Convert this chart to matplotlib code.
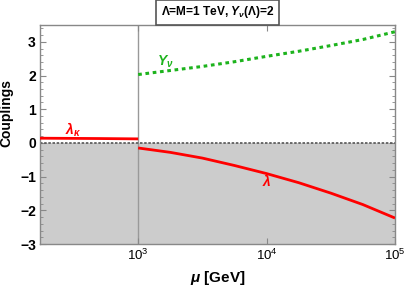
import numpy as np
import matplotlib
matplotlib.use("Agg")
import matplotlib.pyplot as plt
from matplotlib.ticker import LogLocator, FixedLocator, NullFormatter

plt.rcParams['font.family'] = ['Liberation Sans', 'DejaVu Sans']
plt.rcParams['mathtext.fontset'] = 'custom'
plt.rcParams['mathtext.rm'] = 'Liberation Sans:bold'
plt.rcParams['mathtext.it'] = 'Liberation Sans:bold:italic'
plt.rcParams['mathtext.bf'] = 'Liberation Sans:bold'

# data
mu_low = [172, 300, 500, 1000]
lam_kappa = [0.14, 0.135, 0.13, 0.12]
mu_high = [1e3, 10**3.25, 10**3.5, 10**3.75, 1e4, 10**4.25, 10**4.5, 10**4.75, 1e5]
Y_nu = [2.03, 2.15, 2.27, 2.41, 2.57, 2.72, 2.89, 3.07, 3.30]
lam = [-0.15, -0.28, -0.45, -0.67, -0.91, -1.18, -1.49, -1.83, -2.23]
xticks = [1e3, 1e4, 1e5]
xticklabels = [r'$\mathregular{10^3}$', r'$\mathregular{10^4}$', r'$\mathregular{10^5}$']
yticks = [-3, -2, -1, 0, 1, 2, 3]
yticklabels = ['\u22123', '\u22122', '\u22121', '0', '1', '2', '3']

fig = plt.figure(figsize=(4.07, 2.88), dpi=100)
ax = fig.add_axes([40/407, 1-244/288, 355/407, 219/288])
xmin, xmax = 172, 1e5
ax.set_xscale('log')
ax.set_xlim(xmin, xmax)
ax.set_ylim(-3, 3.5)

ax.axhspan(-3, 0, color='#cccccc', zorder=0, lw=0)
ax.axvline(1e3, color='#999999', lw=1.0, zorder=1)
ax.axhline(0, color='#555555', lw=1.2, ls=(0, (1.5, 1)), zorder=2)

ax.plot(mu_low, lam_kappa, color='#ff0000', lw=2, zorder=3, solid_capstyle='butt')
ax.plot(mu_high, lam, color='#ff0000', lw=2, zorder=3, solid_capstyle='butt')
ax.plot(mu_high, Y_nu, color='#1db31d', lw=2.2, ls=(0, (1.2, 1.2)), zorder=3)

ax.text(311, 0.38, r'$\lambda_\kappa$', color='#ff0000', fontsize=10, ha='center', va='center')
ax.text(1620, 2.40, r'$Y_\nu$', color='#1db31d', fontsize=10, ha='center', va='center')
ax.text(1e4, -1.12, r'$\lambda$', color='#ff0000', fontsize=10, ha='center', va='center')

ax.xaxis.set_major_locator(FixedLocator(xticks))
ax.set_xticklabels(xticklabels, fontsize=9.5)
ax.xaxis.set_minor_locator(LogLocator(base=10, subs=np.arange(2, 10)))
ax.xaxis.set_minor_formatter(NullFormatter())
ax.set_yticks(yticks)
ax.set_yticklabels(yticklabels, fontsize=10, fontweight='bold')
ax.yaxis.set_minor_locator(FixedLocator(np.arange(-3, 3.51, 0.2)))
ax.tick_params(which='both', direction='in', top=True, right=True, color='#888888')
ax.tick_params(which='major', length=4, width=0.8, pad=3)
ax.tick_params(which='minor', length=2, width=0.6)
ax.tick_params(axis='x', which='minor', length=0)
for s in ax.spines.values():
    s.set_color('#888888')
    s.set_linewidth(1.0)

ax.set_xlabel(r'$\mu$ [GeV]', fontsize=11, fontweight='bold', labelpad=4)
ax.set_ylabel('Couplings', fontsize=10, fontweight='bold')
ax.yaxis.set_label_coords(-0.076, 0.60)

fig.text(217.5/407, 1-12.5/288, r'Λ=M=1 TeV, $Y_\nu$(Λ)=2', fontsize=8.6, fontweight='bold',
         ha='center', va='center',
         bbox=dict(boxstyle='square,pad=0.35', facecolor='white', edgecolor='#555555', lw=1.2))

fig.savefig('out.png', dpi=100)
